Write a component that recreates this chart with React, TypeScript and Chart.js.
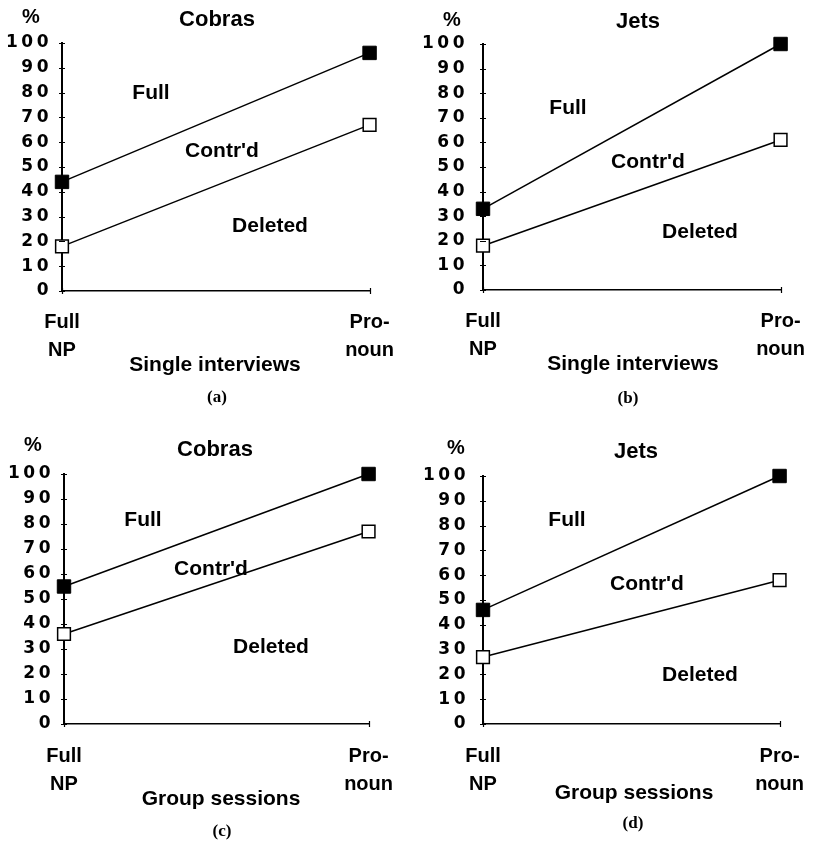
import React, { useEffect, useRef } from 'react';
import { Chart, registerables } from 'chart.js';

Chart.register(...registerables);

// ---- data ----
const categories = [['Full', 'NP'], ['Pro-', 'noun']];
const yTickMin = 0;
const yTickMax = 100;
const yTickStep = 10;

const cobrasSingleUpper = [44, 96];
const cobrasSingleLower = [18, 67];
const jetsSingleUpper = [33, 100];
const jetsSingleLower = [18, 61];
const cobrasGroupUpper = [55, 100];
const cobrasGroupLower = [36, 77];
const jetsGroupUpper = [46, 100];
const jetsGroupLower = [27, 58];

const groupNames = ['Cobras', 'Jets'];
const sessionNames = ['Single interviews', 'Group sessions'];
const panelLetters = ['(a)', '(b)', '(c)', '(d)'];
const regionNames = ['Full', "Contr'd", 'Deleted'];

// ---- layout (positions / sizes only) ----
const W = 411;
const H = 421;
const panels = [
  {
    upper: cobrasSingleUpper, lower: cobrasSingleLower, group: 0, session: 0, letter: 0,
    pos: [0, 0], area: { left: 62, right: 371, top: 43, bottom: 291 }, tickPad: 10, catPad: 17,
    text: { title: [217, 20], pct: [31, 17], regions: [[151, 93], [222, 151], [270, 226]], axisTitle: [215, 365], letter: [217, 398] },
  },
  {
    upper: jetsSingleUpper, lower: jetsSingleLower, group: 1, session: 0, letter: 1,
    pos: [411, 0], area: { left: 72, right: 380, top: 44, bottom: 290 }, tickPad: 15, catPad: 17,
    text: { title: [227, 22], pct: [41, 20], regions: [[157, 108], [237, 162], [289, 232]], axisTitle: [222, 364], letter: [217, 399] },
  },
  {
    upper: cobrasGroupUpper, lower: cobrasGroupLower, group: 0, session: 1, letter: 2,
    pos: [0, 421], area: { left: 64, right: 373, top: 53, bottom: 303 }, tickPad: 10, catPad: 18,
    text: { title: [215, 29], pct: [33, 24], regions: [[143, 99], [211, 148], [271, 226]], axisTitle: [221, 378], letter: [222, 411] },
  },
  {
    upper: jetsGroupUpper, lower: jetsGroupLower, group: 1, session: 1, letter: 3,
    pos: [411, 421], area: { left: 72, right: 380, top: 55, bottom: 303 }, tickPad: 14, catPad: 18,
    text: { title: [225, 31], pct: [45, 27], regions: [[156, 99], [236, 163], [289, 254]], axisTitle: [223, 372], letter: [222, 403] },
  },
];

const SANS = '"Liberation Sans", Arial, Helvetica, sans-serif';
const DIGITS = '"DejaVu Sans", Verdana, sans-serif';
const SERIF = '"Liberation Serif", "Times New Roman", serif';

const panelPlugin = {
  id: 'panelText',
  beforeDraw(chart: any) {
    (chart.ctx as any).letterSpacing = '3.5px';
  },
  beforeDatasetsDraw(chart: any) {
    (chart.ctx as any).letterSpacing = '0px';
  },
  afterDraw(chart: any, _args: any, opts: any) {
    const ctx = chart.ctx;
    const p = opts.panel;
    if (!p) return;
    ctx.save();
    (ctx as any).letterSpacing = '0px';
    ctx.fillStyle = '#000';
    ctx.strokeStyle = '#000';
    ctx.textAlign = 'center';
    ctx.textBaseline = 'middle';

    // tick marks crossing the axes
    const ys = chart.scales.y;
    const xs = chart.scales.x;
    const ax = chart.chartArea.left;
    const ay = chart.chartArea.bottom;
    ctx.lineWidth = 1.2;
    ctx.beginPath();
    ys.ticks.forEach((t: any) => {
      const py = Math.round(ys.getPixelForValue(t.value)) + 0.5;
      ctx.moveTo(ax - 3, py);
      ctx.lineTo(ax + 3, py);
    });
    xs.ticks.forEach((_t: any, i: number) => {
      const px = Math.round(xs.getPixelForTick(i)) + 0.5;
      ctx.moveTo(px, ay - 3);
      ctx.lineTo(px, ay + 3);
    });
    ctx.stroke();

    const t = p.text;
    ctx.font = `bold 22px ${SANS}`;
    ctx.fillText(groupNames[p.group], t.title[0], t.title[1]);
    ctx.font = `bold 20px ${SANS}`;
    ctx.fillText('%', t.pct[0], t.pct[1]);
    ctx.font = `bold 21px ${SANS}`;
    regionNames.forEach((name, i) => {
      ctx.fillText(name, t.regions[i][0], t.regions[i][1]);
    });
    ctx.fillText(sessionNames[p.session], t.axisTitle[0], t.axisTitle[1]);
    ctx.font = `bold 17px ${SERIF}`;
    ctx.fillText(panelLetters[p.letter], t.letter[0], t.letter[1]);
    ctx.restore();
  },
};

function Panel({ p }: { p: any }) {
  const ref = useRef<HTMLCanvasElement | null>(null);
  useEffect(() => {
    if (!ref.current) return;
    const chart = new Chart(ref.current, {
      type: 'line',
      data: {
        labels: categories,
        datasets: [
          {
            data: p.upper,
            borderColor: '#000',
            borderWidth: 1.5,
            backgroundColor: '#000',
            pointStyle: 'rect',
            pointRadius: 9.5,
            pointBorderWidth: 1,
            pointBackgroundColor: '#000',
            pointBorderColor: '#000',
            clip: false,
          },
          {
            data: p.lower,
            borderColor: '#000',
            borderWidth: 1.5,
            backgroundColor: '#fff',
            pointStyle: 'rect',
            pointRadius: 9,
            pointBorderWidth: 1.5,
            pointBackgroundColor: '#fff',
            pointBorderColor: '#000',
            clip: false,
          },
        ],
      } as any,
      options: {
        responsive: false,
        animation: false,
        layout: {
          padding: { left: 0, right: W - p.area.right, top: p.area.top, bottom: 0 },
        },
        plugins: {
          legend: { display: false },
          tooltip: { enabled: false },
          panelText: { panel: p },
        } as any,
        scales: {
          x: {
            type: 'category',
            offset: false,
            grid: { display: false, drawTicks: false },
            border: { display: true, color: '#000', width: 1.5 },
            ticks: {
              z: 1,
              color: '#000',
              padding: p.catPad,
              maxRotation: 0,
              autoSkip: false,
              font: { family: SANS, weight: 'bold', size: 20, lineHeight: 1.4 },
            },
            afterFit: (s: any) => {
              s.height = H - p.area.bottom;
            },
          },
          y: {
            min: yTickMin,
            max: yTickMax,
            grid: { display: false, drawTicks: false },
            border: { display: true, color: '#000', width: 2 },
            ticks: {
              stepSize: yTickStep,
              color: '#000',
              padding: p.tickPad,
              font: { family: DIGITS, weight: 'bold', size: 17 },
            },
            afterFit: (s: any) => {
              s.width = p.area.left;
            },
          },
        },
      } as any,
      plugins: [panelPlugin],
    });
    return () => chart.destroy();
  }, [p]);
  return (
    <div style={{ position: 'absolute', left: p.pos[0], top: p.pos[1], width: W, height: H }}>
      <canvas ref={ref} width={W} height={H} style={{ display: 'block', width: W, height: H }} />
    </div>
  );
}

export default function App() {
  return (
    <div style={{ position: 'absolute', left: 0, top: 0, width: 822, height: 842, background: '#fff' }}>
      {panels.map((p, i) => (
        <Panel key={i} p={p} />
      ))}
    </div>
  );
}
